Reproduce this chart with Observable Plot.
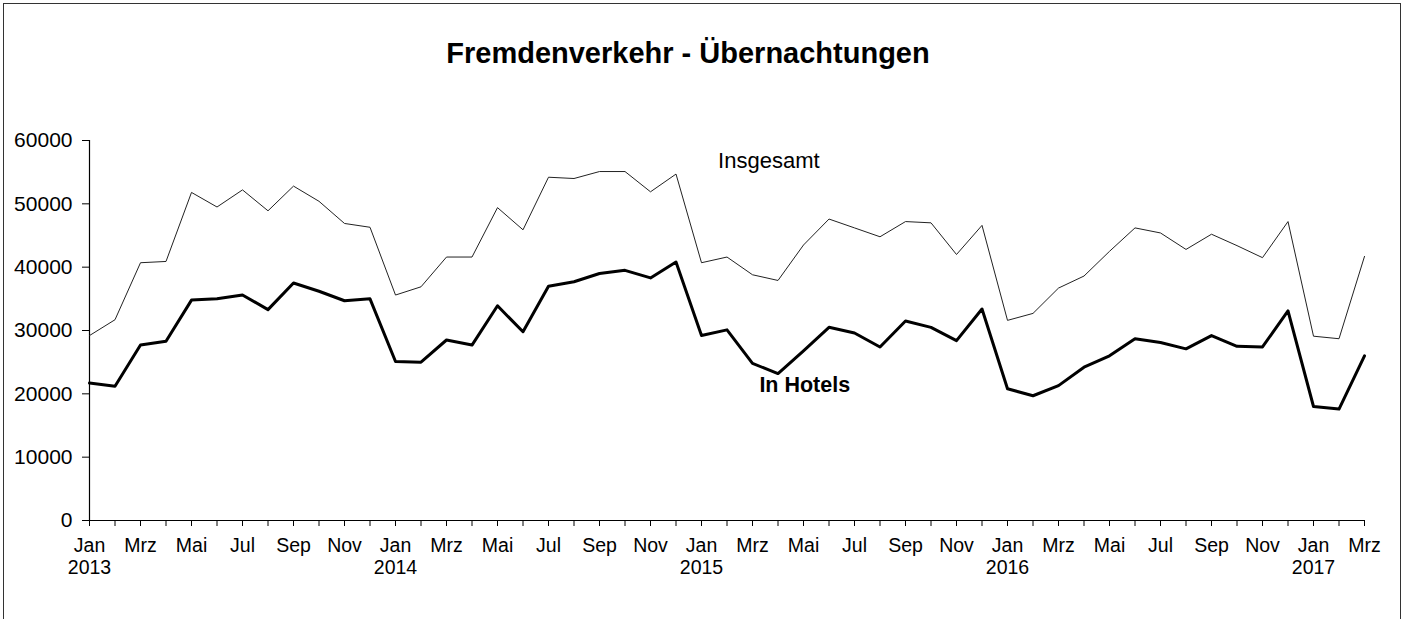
<!DOCTYPE html>
<html>
<head>
<meta charset="utf-8">
<script src="https://cdn.jsdelivr.net/npm/d3@7"></script>
<script src="https://cdn.jsdelivr.net/npm/@observablehq/plot@0.6"></script>
<style>
  html, body { margin: 0; padding: 0; background: #fff; overflow: hidden; }
  #wrap { position: relative; width: 1409px; height: 619px; overflow: hidden; font-family: "Liberation Sans", Arial, sans-serif; }
  #frame { position: absolute; left: 3px; top: 3px; width: 1398px; height: 640px; border: 1px solid #333; box-sizing: border-box; }
  #title { position: absolute; left: 0; top: 0; width: 1376px; height: 80px; text-align: center; font-weight: bold; font-size: 29px; line-height: 29px; padding-top: 39px; box-sizing: border-box; color: #000; }
  #chart { position: absolute; left: 0; top: 80px; }
</style>
</head>
<body>
<div id="wrap">
  <div id="frame"></div>
  <div id="title">Fremdenverkehr - Übernachtungen</div>
  <div id="chart"></div>
</div>
<script>
const monthNames = ["Jan","Feb","Mrz","Apr","Mai","Jun","Jul","Aug","Sep","Okt","Nov","Dez"];
const startYear = 2013;
const yTicks = [0, 10000, 20000, 30000, 40000, 50000, 60000];

const insgesamt = [
  29200, 31700, 40700, 40900, 51800, 49500, 52200, 48900, 52800, 50400, 46900, 46300,
  35600, 36900, 41600, 41600, 49400, 45900, 54200, 54000, 55100, 55100, 51900, 54700,
  40700, 41600, 38800, 37900, 43500, 47600, 46200, 44800, 47200, 47000, 42000, 46600,
  31600, 32700, 36700, 38600, 42500, 46200, 45400, 42800, 45200, 43400, 41500, 47200,
  29100, 28700, 41700
];
const hotels = [
  21700, 21200, 27700, 28300, 34800, 35000, 35600, 33300, 37500, 36200, 34700, 35000,
  25100, 25000, 28500, 27700, 33900, 29800, 37000, 37700, 39000, 39500, 38300, 40800,
  29200, 30100, 24800, 23200, 26800, 30500, 29600, 27400, 31500, 30500, 28400, 33400,
  20800, 19700, 21300, 24200, 26000, 28700, 28100, 27100, 29200, 27500, 27400, 33100,
  18000, 17600, 26000
];
const labelAll = [{text: "Insgesamt", x: 24.65, y: 56800}];
const labelHot = [{text: "In Hotels", x: 26.27, y: 21300}];

const n = insgesamt.length;
const idx = d3.range(n);
const rowsAll = idx.map(i => ({i, v: insgesamt[i]}));
const rowsHot = idx.map(i => ({i, v: hotels[i]}));
const fmt = i => monthNames[i % 12] + (i % 12 === 0 ? "\n" + (startYear + i / 12) : "");

const chart = Plot.plot({
  width: 1409,
  height: 539,
  marginLeft: 89,
  marginRight: 45,
  marginTop: 60,
  marginBottom: 99,
  style: {fontFamily: "Liberation Sans, Arial, sans-serif", fontSize: "19px", color: "#000", background: "transparent", overflow: "visible"},
  x: {domain: [0, n - 1]},
  y: {domain: [0, 60000]},
  marks: [
    Plot.axisY({ticks: yTicks, tickSize: 7, tickPadding: 10, tickFormat: d => String(d), label: null, fontSize: 21}),
    Plot.axisX({ticks: idx, tickSize: 6, tickFormat: () => "", label: null}),
    Plot.axisX({ticks: idx.filter(i => i % 2 === 0), tickSize: 0, tickPadding: 17, tickFormat: fmt, label: null, fontSize: 19.5, lineHeight: 1.08}),
    Plot.ruleX([0], {stroke: "#000", strokeWidth: 1.2}),
    Plot.ruleY([0], {stroke: "#000", strokeWidth: 1.2}),
    Plot.line(rowsAll, {x: "i", y: "v", stroke: "#222", strokeWidth: 1}),
    Plot.line(rowsHot, {x: "i", y: "v", stroke: "#000", strokeWidth: 3, strokeLinejoin: "round"}),
    Plot.text(labelAll, {x: "x", y: "y", text: "text", textAnchor: "start", fontSize: 22, fill: "#000"}),
    Plot.text(labelHot, {x: "x", y: "y", text: "text", textAnchor: "start", fontSize: 21.5, fontWeight: "bold", fill: "#000"})
  ]
});
document.getElementById("chart").appendChild(chart);
</script>
</body>
</html>
